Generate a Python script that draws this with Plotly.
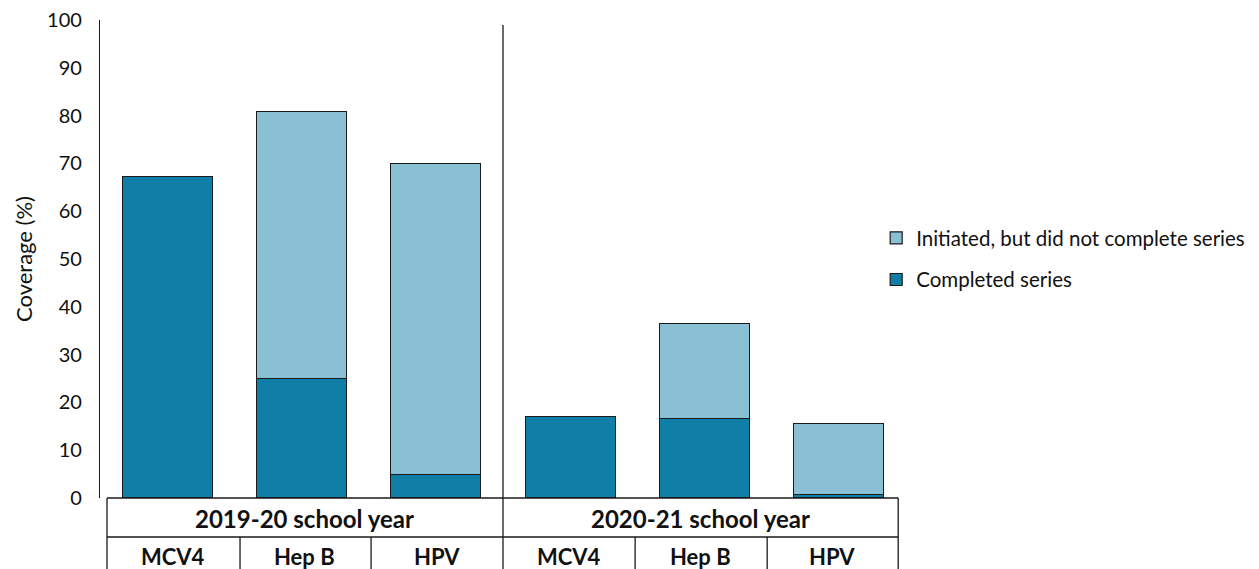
import plotly.graph_objects as go

years = ["2019-20 school year", "2020-21 school year"]
vaccines = ["MCV4", "Hep B", "HPV"]
completed = [67.2, 25.0, 5.0, 17.1, 16.7, 0.7]
initiated_only = [None, 55.8, 65.0, None, 19.8, 14.9]
y_ticks = [0, 10, 20, 30, 40, 50, 60, 70, 80, 90, 100]

n = len(years) * len(vaccines)
xpos = list(range(n))

DARK = "#107FA8"
LIGHT = "#8AC0D4"
FONT = "Lato, 'Open Sans', sans-serif"
TXT = "#111111"

fig = go.Figure()
fig.add_trace(go.Bar(
    x=xpos, y=completed, name="Completed series", legendgroup="a", legendrank=2,
    marker=dict(color=DARK, line=dict(color="#1a1a1a", width=1.2)), width=0.67))
fig.add_trace(go.Bar(
    x=xpos, y=initiated_only, name="Initiated, but did not complete series", legendgroup="b",
    legendrank=1,
    marker=dict(color=LIGHT, line=dict(color="#1a1a1a", width=1.2)), width=0.67))

# plot area in pixels: x 100..906, y 20..498
def px2x(p):
    return (p - 100) / 134.3 - 0.5

def py2paper(p):
    return (498 - p) / 478

shapes = []
line = dict(color="#1a1a1a", width=1.3)
left, right = px2x(107), px2x(898)
shapes.append(dict(type="line", xref="x", yref="paper", x0=left, x1=right, y0=0, y1=0, line=line))
shapes.append(dict(type="line", xref="x", yref="paper", x0=left, x1=right, y0=py2paper(537), y1=py2paper(537), line=line))
shapes.append(dict(type="line", xref="x", yref="paper", x0=left, x1=left, y0=0, y1=-0.3, line=line))
shapes.append(dict(type="line", xref="x", yref="paper", x0=right, x1=right, y0=0, y1=-0.3, line=line))
shapes.append(dict(type="line", xref="x", yref="paper", x0=2.5, x1=2.5, y0=-0.3, y1=py2paper(25), line=line))
cell_edges = [240, 371, 635, 767]
for e in cell_edges:
    xe = px2x(e)
    shapes.append(dict(type="line", xref="x", yref="paper", x0=xe, x1=xe, y0=py2paper(537), y1=-0.3, line=line))

annotations = []
cell_w = (898 - 107) / n
for i, yr in enumerate(years):
    cx = px2x(107 + cell_w * (3 * i + 1.5))
    annotations.append(dict(x=cx, y=py2paper(518), xref="x", yref="paper", text="<b>%s</b>" % yr,
                            xanchor="center", yanchor="middle",
                            showarrow=False, font=dict(size=24, color=TXT, family=FONT)))
    for j, v in enumerate(vaccines):
        k = 3 * i + j
        cx = px2x(107 + cell_w * (k + 0.5))
        annotations.append(dict(x=cx, y=py2paper(556), xref="x", yref="paper", text="<b>%s</b>" % v,
                                xanchor="center", yanchor="middle",
                                showarrow=False, font=dict(size=22, color=TXT, family=FONT)))

fig.update_layout(
    width=1259, height=569,
    margin=dict(l=100, r=353, t=20, b=71, autoexpand=False),
    barmode="stack",
    plot_bgcolor="white", paper_bgcolor="white",
    font=dict(family=FONT, size=19, color=TXT),
    showlegend=True,
    legend=dict(x=0.963, xanchor="left", y=0.5, yanchor="middle", traceorder="grouped",
                tracegroupgap=12, font=dict(size=20.5, color=TXT, family=FONT),
                itemwidth=30),
    xaxis=dict(range=[-0.5, 5.5], showticklabels=False, showgrid=False, zeroline=False,
               showline=False, ticks=""),
    yaxis=dict(range=[0, 100], tickvals=y_ticks, showgrid=False, zeroline=False,
               showline=True, linecolor="#1a1a1a", linewidth=1.3, ticks="",
               tickfont=dict(size=20),
               title=dict(text="Coverage (%)", font=dict(size=22, family=FONT), standoff=8),
               ticklabelstandoff=13),
    shapes=shapes,
    annotations=annotations,
)

fig.write_html("out.html", config={"displayModeBar": False},
               post_script="document.body.style.margin='0';document.body.style.overflow='hidden';")
